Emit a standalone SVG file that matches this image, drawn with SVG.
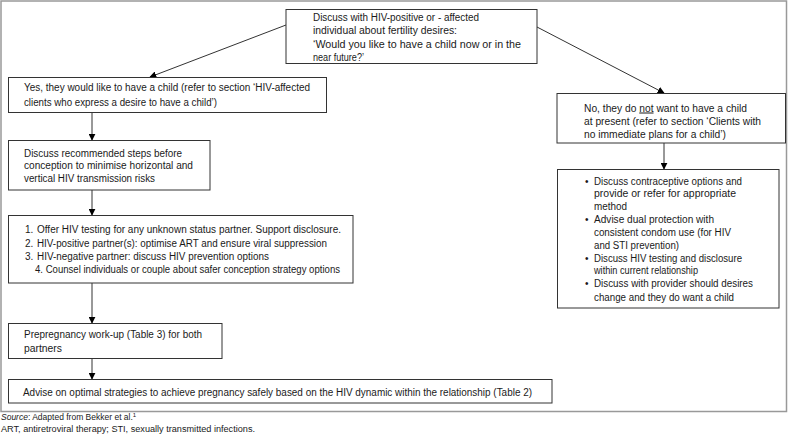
<svg xmlns="http://www.w3.org/2000/svg" width="788" height="442" viewBox="0 0 788 442">
<style>
text{font-family:"Liberation Sans",Arial,sans-serif;font-size:10px;fill:#1a1a1a}
.box{fill:#fff;stroke:#333;stroke-width:1}
.con{stroke:#333;stroke-width:1;fill:none}
.src{font-size:8.5px}
</style>
<defs>
<marker id="ah" viewBox="0 0 10 10" refX="9" refY="5" markerWidth="7" markerHeight="7" orient="auto" markerUnits="userSpaceOnUse">
<path d="M0,0 L10,5 L0,10 Z" fill="#000"/>
</marker>
</defs>
<rect x="1" y="1" width="785.5" height="410.5" fill="#fff" stroke="#999" stroke-width="1.5"/>
<g id="connectors">
<path class="con" d="M286,25 L150,77" marker-end="url(#ah)"/>
<path class="con" d="M537,27 L664,93" marker-end="url(#ah)"/>
<path class="con" d="M92,112 V140" marker-end="url(#ah)"/>
<path class="con" d="M92,190 V215" marker-end="url(#ah)"/>
<path class="con" d="M92,283 V323" marker-end="url(#ah)"/>
<path class="con" d="M92,358 V379" marker-end="url(#ah)"/>
<path class="con" d="M664,143 V169" marker-end="url(#ah)"/>
</g>
<g id="n-top">
<rect class="box" x="286" y="9.5" width="251" height="54"/>
<text x="313" y="20.5" textLength="166" lengthAdjust="spacingAndGlyphs">Discuss with HIV-positive or - affected</text>
<text x="313" y="34" textLength="144" lengthAdjust="spacingAndGlyphs">individual about fertility desires:</text>
<text x="313" y="47.5" textLength="208" lengthAdjust="spacingAndGlyphs">‘Would you like to have a child now or in the</text>
<text x="313" y="60.5" textLength="51" lengthAdjust="spacingAndGlyphs">near future?’</text>
</g>
<g id="n-yes">
<rect class="box" x="8.5" y="77.5" width="318" height="35"/>
<text x="24" y="90.5" textLength="286" lengthAdjust="spacingAndGlyphs">Yes, they would like to have a child (refer to section ‘HIV-affected</text>
<text x="24" y="105.5" textLength="193" lengthAdjust="spacingAndGlyphs">clients who express a desire to have a child’)</text>
</g>
<g id="n-steps">
<rect class="box" x="8.5" y="140.5" width="201.5" height="49.5"/>
<text x="24" y="156.5" textLength="158" lengthAdjust="spacingAndGlyphs">Discuss recommended steps before</text>
<text x="24" y="168.5" textLength="169" lengthAdjust="spacingAndGlyphs">conception to minimise horizontal and</text>
<text x="24" y="181.5" textLength="131" lengthAdjust="spacingAndGlyphs">vertical HIV transmission risks</text>
</g>
<g id="n-list">
<rect class="box" x="8.5" y="215.5" width="344.5" height="67.5"/>
<text x="25" y="232.5">1.</text>
<text x="37" y="232.5" textLength="304" lengthAdjust="spacingAndGlyphs">Offer HIV testing for any unknown status partner. Support disclosure.</text>
<text x="25" y="246.5">2.</text>
<text x="37" y="246.5" textLength="290" lengthAdjust="spacingAndGlyphs">HIV-positive partner(s): optimise ART and ensure viral suppression</text>
<text x="25" y="259.5">3.</text>
<text x="37" y="259.5" textLength="232" lengthAdjust="spacingAndGlyphs">HIV-negative partner: discuss HIV prevention options</text>
<text x="35" y="272.5" textLength="305" lengthAdjust="spacingAndGlyphs">4. Counsel individuals or couple about safer conception strategy options</text>
</g>
<g id="n-prep">
<rect class="box" x="8.5" y="323.5" width="213.5" height="35"/>
<text x="24" y="337.5" textLength="178" lengthAdjust="spacingAndGlyphs">Prepregnancy work-up (Table 3) for both</text>
<text x="24" y="351.5" textLength="38" lengthAdjust="spacingAndGlyphs">partners</text>
</g>
<g id="n-advise">
<rect class="box" x="8.5" y="379.5" width="543.5" height="23.5"/>
<text x="23" y="396" textLength="509" lengthAdjust="spacingAndGlyphs">Advise on optimal strategies to achieve pregnancy safely based on the HIV dynamic within the relationship (Table 2)</text>
</g>
<g id="n-no">
<rect class="box" x="557" y="93.5" width="228.5" height="49.5"/>
<text x="584" y="111.5" textLength="163" lengthAdjust="spacingAndGlyphs">No, they do <tspan text-decoration="underline">not</tspan> want to have a child</text>
<text x="584" y="124.5" textLength="177" lengthAdjust="spacingAndGlyphs">at present (refer to section ‘Clients with</text>
<text x="584" y="137.5" textLength="142" lengthAdjust="spacingAndGlyphs">no immediate plans for a child’)</text>
</g>
<g id="n-bullets">
<rect class="box" x="557.5" y="169.5" width="221.5" height="138.5"/>
<text x="585" y="184.5">•</text>
<text x="594" y="184.5" textLength="148" lengthAdjust="spacingAndGlyphs">Discuss contraceptive options and</text>
<text x="594" y="196.5" textLength="142" lengthAdjust="spacingAndGlyphs">provide or refer for appropriate</text>
<text x="594" y="209.5" textLength="33" lengthAdjust="spacingAndGlyphs">method</text>
<text x="585" y="222.5">•</text>
<text x="594" y="222.5" textLength="120" lengthAdjust="spacingAndGlyphs">Advise dual protection with</text>
<text x="594" y="235.5" textLength="137" lengthAdjust="spacingAndGlyphs">consistent condom use (for HIV</text>
<text x="594" y="248.5" textLength="85" lengthAdjust="spacingAndGlyphs">and STI prevention)</text>
<text x="585" y="261.5">•</text>
<text x="594" y="261.5" textLength="148" lengthAdjust="spacingAndGlyphs">Discuss HIV testing and disclosure</text>
<text x="594" y="273.5" textLength="104" lengthAdjust="spacingAndGlyphs">within current relationship</text>
<text x="585" y="286.5">•</text>
<text x="594" y="286.5" textLength="159" lengthAdjust="spacingAndGlyphs">Discuss with provider should desires</text>
<text x="594" y="301" textLength="140" lengthAdjust="spacingAndGlyphs">change and they do want a child</text>
</g>
<text class="src" x="1" y="420"><tspan font-style="italic">Source</tspan>: Adapted from Bekker et al.<tspan font-size="6" dy="-3">1</tspan></text>
<text class="src" x="1" y="432" textLength="254" lengthAdjust="spacingAndGlyphs">ART, antiretroviral therapy; STI, sexually transmitted infections.</text>
</svg>
